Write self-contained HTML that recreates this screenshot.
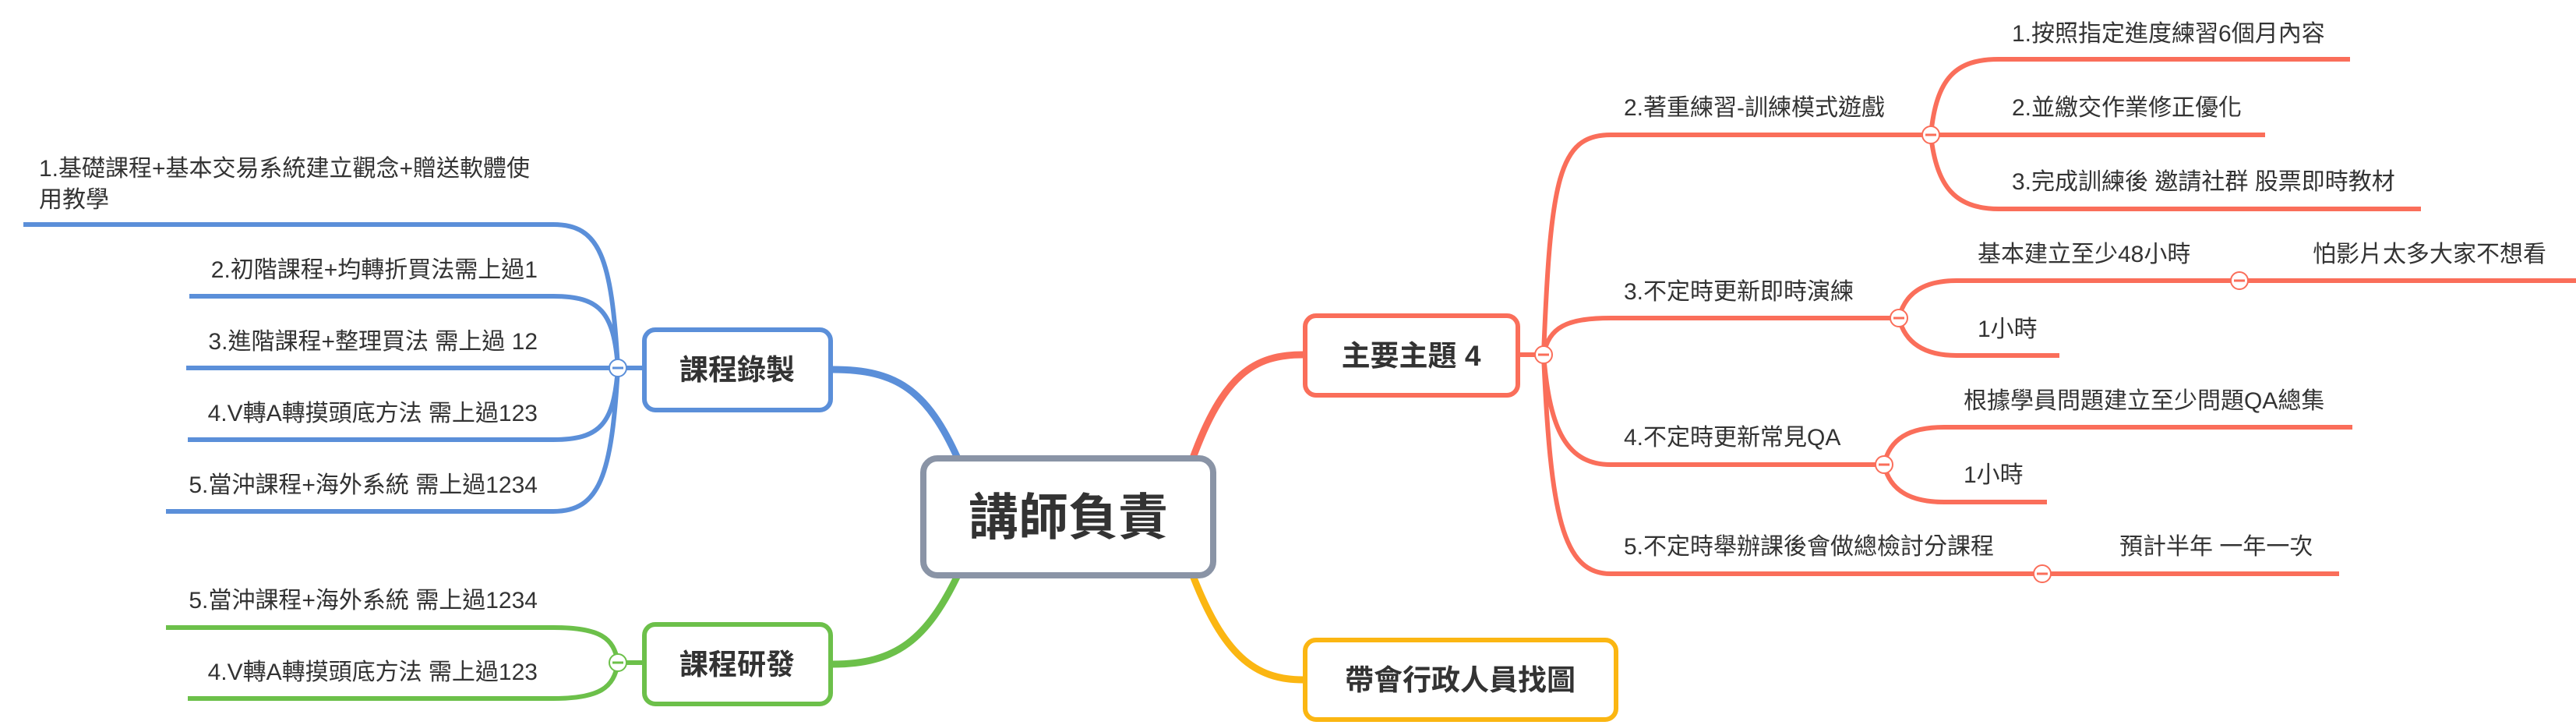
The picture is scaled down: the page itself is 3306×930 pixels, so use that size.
<!DOCTYPE html>
<html><head><meta charset="utf-8"><style>
html,body{margin:0;padding:0;background:#fff;}
svg{display:block}
text{font-family:"Liberation Sans","Noto Sans CJK TC",sans-serif;fill:#333;}
.s{font-size:30px;}
.b{font-weight:bold;}
</style></head><body>
<svg width="3306" height="930" viewBox="0 0 3306 930" xmlns="http://www.w3.org/2000/svg">
<path d="M1230 590 C1190 500,1150 474,1069 474" fill="none" stroke="#5b8fd9" stroke-width="9"/>
<path d="M1230 736 C1190 820,1150 852,1069 852" fill="none" stroke="#6cc04a" stroke-width="9"/>
<path d="M1530 590 C1570 480,1610 455,1672 455" fill="none" stroke="#fa6e5a" stroke-width="9"/>
<path d="M1530 736 C1570 840,1610 872,1672 872" fill="none" stroke="#fbb612" stroke-width="9"/>

<g fill="none" stroke="#5b8fd9" stroke-width="6">
<path d="M1069 472 L793 472"/>
<path d="M793 472 C785 330,770 288,710 288 L30 288"/>
<path d="M793 472 C788 400,770 380,710 380 L243 380"/>
<path d="M793 472 L239 472"/>
<path d="M793 472 C788 544,770 564,710 564 L241 564"/>
<path d="M793 472 C785 610,770 656,710 656 L213 656"/>
</g>
<circle cx="793" cy="472" r="11" fill="#fff" stroke="#5b8fd9" stroke-width="2"/>
<line x1="786" y1="472" x2="800" y2="472" stroke="#5b8fd9" stroke-width="3"/>
<text class="s" x="50" y="226">1.基礎課程+基本交易系統建立觀念+贈送軟體使</text>
<text class="s" x="50" y="266">用教學</text>
<text class="s" x="690" y="356" text-anchor="end">2.初階課程+均轉折買法需上過1</text>
<text class="s" x="690" y="448" text-anchor="end">3.進階課程+整理買法 需上過 12</text>
<text class="s" x="690" y="540" text-anchor="end">4.V轉A轉摸頭底方法 需上過123</text>
<text class="s" x="690" y="632" text-anchor="end">5.當沖課程+海外系統 需上過1234</text>

<g fill="none" stroke="#6cc04a" stroke-width="6">
<path d="M1069 850 L793 850"/>
<path d="M793 850 C788 818,770 805,710 805 L213 805"/>
<path d="M793 850 C788 882,770 896,710 896 L241 896"/>
</g>
<circle cx="793" cy="850" r="11" fill="#fff" stroke="#6cc04a" stroke-width="2"/>
<line x1="786" y1="850" x2="800" y2="850" stroke="#6cc04a" stroke-width="3"/>
<text class="s" x="690" y="780" text-anchor="end">5.當沖課程+海外系統 需上過1234</text>
<text class="s" x="690" y="872" text-anchor="end">4.V轉A轉摸頭底方法 需上過123</text>

<g fill="none" stroke="#fa6e5a" stroke-width="6">
<path d="M1951 455 L1981 455"/>
<path d="M1981 455 C1990 230,2000 173,2067 173 L2478 173"/>
<path d="M1981 455 C1988 420,2010 408,2067 408 L2437 408"/>
<path d="M1981 455 C1988 540,2005 596,2067 596 L2418 596"/>
<path d="M1981 455 C1990 660,2005 736,2067 736 L3002 736"/>
<path d="M2478 173 C2485 100,2510 76,2565 76 L3016 76"/>
<path d="M2478 173 L2907 173"/>
<path d="M2478 173 C2485 240,2510 268,2565 268 L3107 268"/>
<path d="M2437 408 C2445 375,2470 360,2511 360 L3306 360"/>
<path d="M2437 408 C2445 440,2470 456,2511 456 L2643 456"/>
<path d="M2418 596 C2425 563,2450 548,2495 548 L3019 548"/>
<path d="M2418 596 C2425 628,2450 644,2495 644 L2627 644"/>
</g>
<g fill="#fff" stroke="#fa6e5a" stroke-width="2">
<circle cx="1981" cy="455" r="11"/><circle cx="2478" cy="173" r="11"/><circle cx="2437" cy="408" r="11"/>
<circle cx="2418" cy="596" r="11"/><circle cx="2621" cy="736" r="11"/><circle cx="2874" cy="360" r="11"/>
</g>
<g stroke="#fa6e5a" stroke-width="3">
<line x1="1974" y1="455" x2="1988" y2="455"/><line x1="2471" y1="173" x2="2485" y2="173"/>
<line x1="2430" y1="408" x2="2444" y2="408"/><line x1="2411" y1="596" x2="2425" y2="596"/>
<line x1="2614" y1="736" x2="2628" y2="736"/><line x1="2867" y1="360" x2="2881" y2="360"/>
</g>
<text class="s" x="2084" y="148">2.著重練習-訓練模式遊戲</text>
<text class="s" x="2084" y="384">3.不定時更新即時演練</text>
<text class="s" x="2084" y="571">4.不定時更新常見QA</text>
<text class="s" x="2084" y="711">5.不定時舉辦課後會做總檢討分課程</text>
<text class="s" x="2582" y="53">1.按照指定進度練習6個月內容</text>
<text class="s" x="2582" y="148">2.並繳交作業修正優化</text>
<text class="s" x="2582" y="243">3.完成訓練後 邀請社群 股票即時教材</text>
<text class="s" x="2538" y="336">基本建立至少48小時</text>
<text class="s" x="2968" y="336">怕影片太多大家不想看</text>
<text class="s" x="2538" y="432">1小時</text>
<text class="s" x="2520" y="524">根據學員問題建立至少問題QA總集</text>
<text class="s" x="2520" y="619">1小時</text>
<text class="s" x="2720" y="711">預計半年 一年一次</text>

<rect x="1185" y="588" width="372" height="150" rx="18" fill="#fff" stroke="#8a94a6" stroke-width="8"/>
<text class="b" x="1371" y="686" font-size="64" text-anchor="middle">講師負責</text>
<rect x="827" y="423" width="239" height="103" rx="14" fill="#fff" stroke="#5b8fd9" stroke-width="6"/>
<text class="b" x="946" y="487" font-size="37" text-anchor="middle">課程錄製</text>
<rect x="827" y="801" width="239" height="102" rx="14" fill="#fff" stroke="#6cc04a" stroke-width="6"/>
<text class="b" x="946" y="865" font-size="37" text-anchor="middle">課程研發</text>
<rect x="1675" y="405" width="273" height="102" rx="14" fill="#fff" stroke="#fa6e5a" stroke-width="6"/>
<text class="b" x="1811" y="469" font-size="37" text-anchor="middle">主要主題 4</text>
<rect x="1675" y="821" width="399" height="102" rx="14" fill="#fff" stroke="#fbb612" stroke-width="6"/>
<text class="b" x="1874" y="885" font-size="37" text-anchor="middle">帶會行政人員找圖</text>
</svg>
</body></html>
